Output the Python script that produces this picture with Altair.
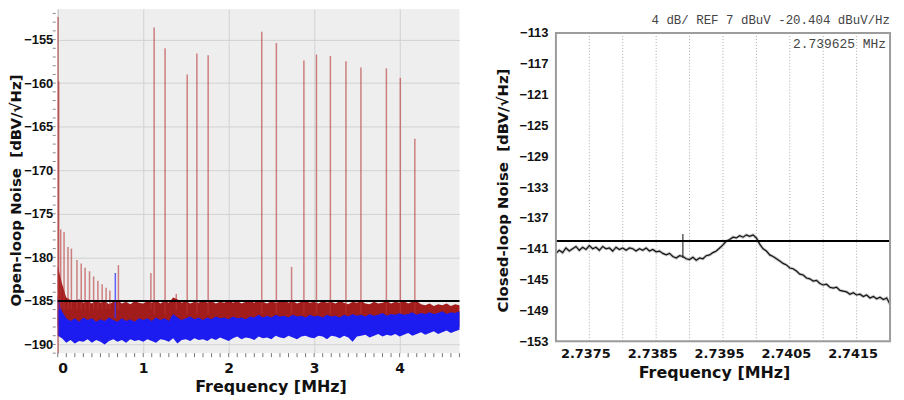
import json
import altair as alt
import pandas as pd

# ---------------- left panel data (open-loop spectrum) ----------------
ol_freq = [0.00, 0.05, 0.10, 0.15, 0.20, 0.25, 0.30, 0.35, 0.40, 0.45,
           0.50, 0.55, 0.60, 0.65, 0.70, 0.75, 0.80, 0.85, 0.90, 0.95,
           1.00, 1.05, 1.10, 1.15, 1.20, 1.25, 1.30, 1.35, 1.40, 1.45,
           1.50, 1.55, 1.60, 1.65, 1.70, 1.75, 1.80, 1.85, 1.90, 1.95,
           2.00, 2.05, 2.10, 2.15, 2.20, 2.25, 2.30, 2.35, 2.40, 2.45,
           2.50, 2.55, 2.60, 2.65, 2.70, 2.75, 2.80, 2.85, 2.90, 2.95,
           3.00, 3.05, 3.10, 3.15, 3.20, 3.25, 3.30, 3.35, 3.40, 3.45,
           3.50, 3.55, 3.60, 3.65, 3.70, 3.75, 3.80, 3.85, 3.90, 3.95,
           4.00, 4.05, 4.10, 4.15, 4.20, 4.25, 4.30, 4.35, 4.40, 4.45,
           4.50, 4.55, 4.60, 4.65, 4.70]
ol_red_top = [-181.0, -183.0, -184.6, -184.9, -185.1, -184.8, -185.2, -185.0, -185.3, -184.9,
              -185.2, -185.0, -185.4, -185.1, -184.9, -185.3, -185.1, -185.4, -185.0, -185.2,
              -185.3, -185.0, -185.2, -184.9, -185.3, -185.0, -185.2, -184.6, -184.8, -185.2,
              -185.0, -185.3, -185.1, -185.2, -184.9, -185.2, -185.0, -185.3, -185.1, -185.2,
              -184.9, -185.2, -185.0, -185.3, -185.1, -185.0, -185.2, -184.9, -185.1, -185.3,
              -185.0, -185.2, -185.1, -184.9, -185.2, -185.0, -185.3, -185.1, -185.0, -185.2,
              -185.1, -185.3, -185.0, -185.2, -185.1, -185.3, -185.0, -185.2, -185.4, -185.1,
              -185.2, -185.0, -185.3, -185.4, -185.1, -185.3, -185.2, -185.0, -185.3, -185.1,
              -185.2, -185.0, -185.3, -185.1, -185.0, -185.4, -185.5, -185.3, -185.6, -185.4,
              -185.5, -185.3, -185.6, -185.4, -185.5]
ol_red_bottom = -188.0
ol_blue_top = [-184.5, -186.2, -187.0, -187.3, -187.0, -187.4, -186.9, -187.2, -187.0, -187.4,
               -187.1, -187.3, -186.9, -187.2, -187.4, -187.0, -187.3, -187.1, -187.4, -187.0,
               -187.2, -187.0, -187.3, -186.9, -187.2, -187.0, -187.3, -186.5, -186.9, -187.2,
               -187.0, -186.8, -187.1, -186.9, -187.2, -186.9, -187.1, -186.8, -187.0, -186.9,
               -187.1, -186.8, -187.0, -186.9, -187.1, -186.8, -186.9, -186.6, -186.9, -186.7,
               -186.9, -186.6, -186.8, -186.7, -186.9, -186.6, -186.8, -186.7, -186.9, -186.6,
               -186.8, -186.7, -186.9, -186.6, -186.8, -186.7, -186.9, -186.6, -186.8, -186.5,
               -186.7, -186.6, -186.8, -186.5, -186.7, -186.6, -186.4, -186.7, -186.5, -186.6,
               -186.4, -186.6, -186.5, -186.3, -186.6, -186.4, -186.5, -186.3, -186.5, -186.4,
               -186.2, -186.5, -186.3, -186.4, -186.2]
ol_blue_bottom = [-189.0, -189.3, -189.8, -189.5, -189.9, -189.6, -189.7, -189.4, -189.8, -189.5,
                  -189.7, -190.0, -189.6, -189.4, -189.7, -189.5, -189.8, -189.4, -189.6, -189.5,
                  -189.7, -189.4, -189.6, -189.8, -189.4, -189.5, -189.7, -189.3, -189.9, -189.5,
                  -189.4, -189.6, -189.3, -189.5, -189.4, -189.6, -189.3, -189.5, -189.2, -189.4,
                  -189.6, -189.3, -189.1, -189.4, -189.2, -189.3, -189.5, -189.1, -189.3, -189.2,
                  -189.4, -189.0, -189.2, -189.3, -189.0, -189.2, -189.4, -189.1, -189.0, -189.2,
                  -189.3, -189.0, -189.1, -189.4, -189.0, -189.1, -189.3, -189.0, -189.2, -189.7,
                  -189.1, -189.0, -188.9, -189.2, -189.0, -188.8, -189.1, -188.9, -189.0, -188.8,
                  -189.1, -188.9, -188.7, -189.0, -188.8, -188.6, -188.9, -188.7, -188.5, -188.8,
                  -188.6, -188.4, -188.7, -188.5, -188.3]

# red spurs: frequency [MHz], peak [dB], base [dB]
spur_freq = [0.004, 0.012, 0.035, 0.074, 0.12, 0.16, 0.225, 0.275, 0.32, 0.372, 0.42,
             0.47, 0.52, 0.566, 0.61, 0.71, 1.09, 1.128, 1.256, 1.387, 1.515, 1.628,
             1.76, 2.387, 2.558, 2.736, 2.88, 3.027, 3.19, 3.372, 3.547, 3.845, 4.008, 4.178]
spur_peak = [-152.4, -159.8, -176.8, -177.1, -178.8, -179.0, -180.3, -180.7, -181.2, -181.6, -182.2,
             -182.7, -183.1, -183.5, -183.8, -180.9, -181.8, -153.6, -156.0, -184.2, -159.0, -156.6,
             -156.8, -154.1, -155.4, -181.1, -157.4, -156.7, -156.9, -157.5, -158.2, -158.3, -159.4, -166.4]
spur_base = [-191.0, -186.0, -186.0, -186.0, -186.0, -186.0, -186.0, -186.0, -186.0, -186.0, -186.0,
             -186.0, -186.0, -186.0, -186.0, -186.0, -186.0, -186.5, -186.5, -186.0, -186.5, -186.5,
             -186.5, -186.5, -186.5, -186.5, -186.5, -186.5, -186.5, -186.5, -186.5, -186.5, -186.5, -186.5]
blue_spur_freq = [0.674]
blue_spur_peak = [-181.8]
blue_spur_base = [-187.0]
ol_threshold = -185.0

left_x_ticks = [0, 1, 2, 3, 4]
left_y_ticks = [-190, -185, -180, -175, -170, -165, -160, -155]
left_x_minor = [0.0, 0.1, 0.2, 0.3, 0.4, 0.5, 0.6, 0.7, 0.8, 0.9, 1.0, 1.1, 1.2, 1.3, 1.4, 1.5,
                1.6, 1.7, 1.8, 1.9, 2.0, 2.1, 2.2, 2.3, 2.4, 2.5, 2.6, 2.7, 2.8, 2.9, 3.0, 3.1,
                3.2, 3.3, 3.4, 3.5, 3.6, 3.7, 3.8, 3.9, 4.0, 4.1, 4.2, 4.3, 4.4, 4.5, 4.6, 4.7]
left_y_minor = list(range(-191, -151))

# ---------------- right panel data (closed-loop, spectrum analyser) ----------------
cl_freq = [2.73700, 2.73705, 2.73710, 2.73715, 2.73720, 2.73725, 2.73730, 2.73735, 2.73740, 2.73745,
           2.73750, 2.73755, 2.73760, 2.73765, 2.73770, 2.73775, 2.73780, 2.73785, 2.73790, 2.73795,
           2.73800, 2.73805, 2.73810, 2.73815, 2.73820, 2.73825, 2.73830, 2.73835, 2.73840, 2.73845,
           2.73850, 2.73855, 2.73860, 2.73865, 2.73870, 2.73875, 2.73880, 2.73885, 2.73890, 2.73895,
           2.73900, 2.73905, 2.73910, 2.73915, 2.73920, 2.73925, 2.73930, 2.73935, 2.73940, 2.73945,
           2.73950, 2.73955, 2.73960, 2.73965, 2.73970, 2.73975, 2.73980, 2.73985, 2.73990, 2.73995,
           2.74000, 2.74005, 2.74010, 2.74015, 2.74020, 2.74025, 2.74030, 2.74035, 2.74040, 2.74045,
           2.74050, 2.74055, 2.74060, 2.74065, 2.74070, 2.74075, 2.74080, 2.74085, 2.74090, 2.74095,
           2.74100, 2.74105, 2.74110, 2.74115, 2.74120, 2.74125, 2.74130, 2.74135, 2.74140, 2.74145,
           2.74150, 2.74155, 2.74160, 2.74165, 2.74170, 2.74175, 2.74180, 2.74185, 2.74190, 2.74195,
           2.74200]
cl_noise = [-141.6, -141.2, -141.5, -140.9, -141.3, -141.0, -140.7, -141.2, -140.8, -141.1, -140.6,
            -141.0, -140.8, -141.2, -140.7, -141.0, -140.9, -141.3, -140.8, -141.1, -140.9,
            -141.2, -140.9, -141.0, -141.3, -141.0, -141.2, -140.9, -141.3, -141.1, -141.4,
            -141.3, -141.6, -141.8, -141.6, -142.0, -142.2, -141.9,
            -142.0,
            -142.3, -142.4, -142.1, -142.5, -142.2, -142.3, -141.9, -141.8, -141.5,
            -141.3, -140.9, -140.5, -140.0, -139.8, -139.5, -139.6, -139.3, -139.5, -139.2, -139.4, -139.2,
            -139.6, -140.4, -141.0, -141.3, -141.8, -142.0, -142.3, -142.6, -142.9, -143.1, -143.5,
            -143.6, -143.9, -144.3, -144.4, -144.8, -144.9, -145.2, -145.1, -145.5, -145.7,
            -145.6, -146.0, -146.1, -146.0, -146.4, -146.5, -146.6, -146.9, -146.7, -147.0,
            -146.9, -147.2, -147.0, -147.4, -147.2, -147.5, -147.3, -147.6, -147.4, -148.2]
cl_spur_freq = [2.7389]
cl_spur_peak = [-139.1]
cl_spur_base = [-142.2]
cl_threshold = -140.0

right_x_min, right_x_max = 2.7370, 2.7420
right_y_min, right_y_max = -153, -113
right_x_grid = [2.7370, 2.7375, 2.7380, 2.7385, 2.7390, 2.7395, 2.7400, 2.7405, 2.7410, 2.7415, 2.7420]
right_x_labels = ["2.7375", "2.7385", "2.7395", "2.7405", "2.7415"]
right_y_ticks = [-153, -149, -145, -141, -137, -133, -129, -125, -121, -117, -113]
header_text = "4 dB/  REF 7 dBuV  -20.404 dBuV/Hz"
marker_text = "2.739625 MHz"

BOLD = "DejaVu Sans"
ARIAL = "Liberation Sans"
MONO = "Liberation Mono"

# ---------------- left chart ----------------
L_W, L_H = 404, 346
lx = alt.Scale(domain=[0, 4.7], nice=False, zero=False)
ly = alt.Scale(domain=[-191, -151.5], nice=False, zero=False)

band_df = pd.DataFrame({"f": ol_freq, "rt": ol_red_top, "rb": [ol_red_bottom] * len(ol_freq),
                        "bt": ol_blue_top, "bb": ol_blue_bottom})
spur_df = pd.DataFrame({"f": spur_freq, "peak": spur_peak, "base": spur_base})
bspur_df = pd.DataFrame({"f": blue_spur_freq, "peak": blue_spur_peak, "base": blue_spur_base})

x_axis_left = alt.Axis(values=left_x_ticks, format="d", title="Frequency [MHz]", grid=True,
                       gridColor="#d2d2d2", gridWidth=1, tickSize=0, domain=False,
                       labelFont=BOLD, labelFontWeight="bold", labelFontSize=14, labelColor="#111",
                       labelPadding=8, titleFont=BOLD, titleFontSize=16, titleFontWeight="bold",
                       titleColor="#111", titlePadding=4, titleX=214)
y_axis_left = alt.Axis(values=left_y_ticks, format="d", title="Open-loop Noise \u00a0[dBV/\u221aHz]",
                       grid=True, gridColor="#d2d2d2", gridWidth=1, tickSize=0, domain=True,
                       domainColor="#c8c8c8", labelFont=ARIAL, labelFontWeight="bold",
                       labelFontSize=13, labelColor="#111", labelPadding=5, titleFont=BOLD,
                       titleFontSize=15, titleFontWeight="bold", titleColor="#111",
                       titlePadding=0, titleY=182)


def LX(field):
    return alt.X(field, scale=lx, axis=x_axis_left)


def LY(field):
    return alt.Y(field, scale=ly, axis=y_axis_left)


red = alt.Chart(band_df).mark_area(color="#a21c1c", opacity=1).encode(
    x=LX("f:Q"), y=LY("rt:Q"), y2="rb:Q")
blue = alt.Chart(band_df).mark_area(color="#1c1cf0", opacity=1).encode(
    x=LX("f:Q"), y=LY("bt:Q"), y2="bb:Q")
spurs = alt.Chart(spur_df).mark_rule(color="#b83434", opacity=0.6, strokeWidth=1.5).encode(
    x=LX("f:Q"), y=LY("peak:Q"), y2="base:Q")
bspurs = alt.Chart(bspur_df).mark_rule(color="#3a3aff", opacity=0.8, strokeWidth=1.5).encode(
    x=LX("f:Q"), y=LY("peak:Q"), y2="base:Q")
thr_left = alt.Chart(pd.DataFrame({"v": [ol_threshold]})).mark_rule(color="#000", strokeWidth=2).encode(
    y=LY("v:Q"))
minor_x = alt.Chart(pd.DataFrame({"f": left_x_minor})).mark_rule(color="#777", strokeWidth=1).encode(
    x=LX("f:Q"), y=alt.value(L_H), y2=alt.value(L_H + 4))
minor_y = alt.Chart(pd.DataFrame({"v": left_y_minor})).mark_rule(color="#888", strokeWidth=1).encode(
    y=LY("v:Q"), x=alt.value(-5), x2=alt.value(-2))

left = alt.layer(red, blue, spurs, bspurs, thr_left, minor_x, minor_y).properties(
    width=L_W, height=L_H,
    view=alt.ViewBackground(fill="#eeeeee", strokeWidth=0))

# ---------------- right chart ----------------
# the plot area runs from the page top; the frame (-153..-113) starts 24 px lower,
# leaving room for the analyser's header line inside the same chart
R_W, R_H = 336, 334
rx = alt.Scale(domain=[right_x_min, right_x_max], nice=False, zero=False)
ry = alt.Scale(domain=[right_y_min, -109.9], nice=False, zero=False)

label_expr = ("indexof(" + json.dumps(right_x_labels) + ", format(datum.value, '.4f')) >= 0 ? "
              "format(datum.value, '.4f') : ''")
x_axis_right = alt.Axis(values=right_x_grid, labelExpr=label_expr, title="Frequency [MHz]",
                        grid=False, tickSize=0, domain=False, labelFont=BOLD, labelFontWeight="bold",
                        labelFontSize=13, labelColor="#111", labelPadding=6, labelOffset=-4,
                        titleFont=BOLD, titleFontSize=16, titleFontWeight="bold",
                        titleColor="#111", titlePadding=4, titleX=159)
y_axis_right = alt.Axis(values=right_y_ticks, format="d",
                        title="Closed-loop Noise \u00a0[dBV/\u221aHz]",
                        grid=True, gridColor="#a8a8a8", gridDash=[1, 2], gridWidth=1,
                        tickSize=0, domain=False, labelFont=ARIAL, labelFontWeight="bold",
                        labelFontSize=13, labelColor="#111", labelPadding=8,
                        titleFont=BOLD, titleFontSize=15, titleFontWeight="bold",
                        titleColor="#111", titlePadding=8, titleY=182)


def RX(field):
    return alt.X(field, scale=rx, axis=x_axis_right)


def RY(field):
    return alt.Y(field, scale=ry, axis=y_axis_right)


frame_df = pd.DataFrame({"x0": [right_x_min], "x1": [right_x_max],
                         "y0": [right_y_min], "y1": [right_y_max]})
grid_df = pd.DataFrame({"f": right_x_grid, "y0": [right_y_min] * len(right_x_grid),
                        "y1": [right_y_max] * len(right_x_grid)})
cl_df = pd.DataFrame({"f": cl_freq, "v": cl_noise})

bg = alt.Chart(frame_df).mark_rect(color="white").encode(
    x=RX("x0:Q"), x2="x1:Q", y=RY("y0:Q"), y2="y1:Q")
xgrid = alt.Chart(grid_df).mark_rule(color="#a8a8a8", strokeDash=[1, 2], strokeWidth=1).encode(
    x=RX("f:Q"), y=RY("y0:Q"), y2="y1:Q")
halo = alt.Chart(cl_df).mark_line(color="#8a8a8a", strokeWidth=3, opacity=0.5).encode(
    x=RX("f:Q"), y=RY("v:Q"))
trace = alt.Chart(cl_df).mark_line(color="#151515", strokeWidth=1.2).encode(
    x=RX("f:Q"), y=RY("v:Q"))
cl_spur = alt.Chart(pd.DataFrame({"f": cl_spur_freq, "peak": cl_spur_peak, "base": cl_spur_base})).mark_rule(
    color="#333", strokeWidth=1.2).encode(x=RX("f:Q"), y=RY("peak:Q"), y2="base:Q")
thr_right = alt.Chart(pd.DataFrame({"v": [cl_threshold], "x0": [right_x_min], "x1": [right_x_max]})).mark_rule(
    color="#000", strokeWidth=2).encode(y=RY("v:Q"), x=RX("x0:Q"), x2="x1:Q")
frame = alt.Chart(frame_df).mark_rect(fillOpacity=0, stroke="#9c9c9c", strokeWidth=2).encode(
    x=RX("x0:Q"), x2="x1:Q", y=RY("y0:Q"), y2="y1:Q")
header = alt.Chart(pd.DataFrame({"t": [header_text]})).mark_text(
    align="right", baseline="alphabetic", font=MONO, fontSize=12.5, color="#444").encode(
    text="t:N", x=alt.value(R_W), y=alt.value(15))
marker = alt.Chart(pd.DataFrame({"t": [marker_text]})).mark_text(
    align="right", baseline="alphabetic", font=MONO, fontSize=13, color="#444").encode(
    text="t:N", x=alt.value(R_W - 4), y=alt.value(39))

right = alt.layer(bg, xgrid, halo, trace, cl_spur, thr_right, frame, header, marker).properties(
    width=R_W, height=R_H,
    view=alt.ViewBackground(fill="white", strokeWidth=0))

chart = alt.hconcat(left, right, spacing=35).properties(
    padding={"left": 0, "top": 0, "right": 0, "bottom": 0},
    background="white")

chart.save("out.html", embed_options={"renderer": "svg", "actions": False})
